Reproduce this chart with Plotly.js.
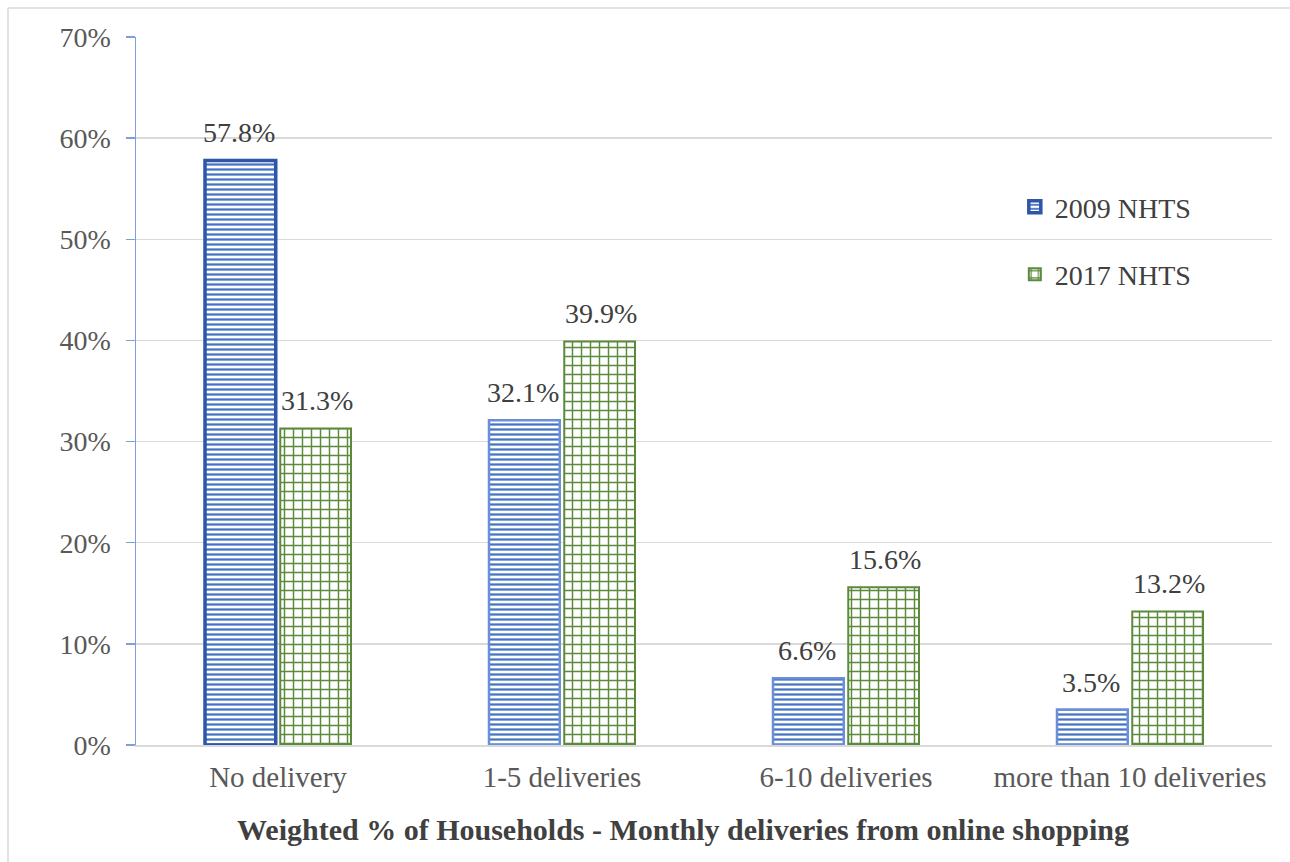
<!DOCTYPE html>
<html>
<head>
<meta charset="utf-8">
<script src="https://cdn.plot.ly/plotly-3.0.1.min.js"></script>
<style>
html,body{margin:0;padding:0;background:#fff;}
#chart{width:1290px;height:862px;}
</style>
</head>
<body>
<div id="chart"></div>
<script>
const categories = ["No delivery", "1-5 deliveries", "6-10 deliveries", "more than 10 deliveries"];
const series2009 = [57.8, 32.1, 6.6, 3.5];
const series2017 = [31.3, 39.9, 15.6, 13.2];
const seriesNames = ["2009 NHTS", "2017 NHTS"];
const yTickVals = [0, 10, 20, 30, 40, 50, 60, 70];
const yTickText = ["0%", "10%", "20%", "30%", "40%", "50%", "60%", "70%"];
const xTitle = "Weighted % of Households - Monthly deliveries from online shopping";

const serif = "Liberation Serif, Times New Roman, serif";
const fmt = v => v.toFixed(1) + "%";

const blue = "#4472C4";
const green = "#5B8A3A";

const traces = [
  {
    type: "bar", name: seriesNames[0], x: categories, y: series2009,
    legendgroup: "a",
    marker: {
      color: "#ffffff",
      line: {color: series2009.map((v, i) => i === 0 ? "#2F55A8" : "#6A8FD8"), width: series2009.map((v, i) => i === 0 ? 3.5 : 2.5)},
      pattern: {shape: "-", fgcolor: blue, bgcolor: "#ffffff", size: 5, solidity: 0.45}
    },
    hoverinfo: "skip"
  },
  {
    type: "bar", name: seriesNames[1], x: categories, y: series2017,
    legendgroup: "b",
    marker: {
      color: "#ffffff",
      line: {color: green, width: 2},
      pattern: {shape: "+", fgcolor: green, bgcolor: "#ffffff", size: 9, solidity: 0.3}
    },
    hoverinfo: "skip"
  }
];

// data labels above bars, from the series arrays
const groupOffset = 39; // px offset of each bar centre from category centre
const annotations = [];
[series2009, series2017].forEach((arr, s) => {
  arr.forEach((v, i) => {
    annotations.push({
      x: categories[i], y: v, xref: "x", yref: "y",
      text: fmt(v), showarrow: false, yanchor: "bottom",
      xshift: s === 0 ? -groupOffset : groupOffset, yshift: 10,
      font: {family: serif, size: 28, color: "#404040"}
    });
  });
});
// x-axis title (offset slightly left of the plot centre, as in the original)
annotations.push({
  xref: "paper", yref: "paper", x: 0.4815, y: -0.12,
  xanchor: "center", yanchor: "middle", showarrow: false,
  text: "<b>" + xTitle + "</b>",
  font: {family: serif, size: 30, color: "#404040"}
});

const layout = {
  width: 1290, height: 862,
  margin: {l: 136, r: 18, t: 37, b: 117},
  paper_bgcolor: "#ffffff", plot_bgcolor: "#ffffff",
  barmode: "group", bargap: 0.47, bargroupgap: 0.06,
  font: {family: serif, color: "#595959"},
  showlegend: true,
  legend: {
    x: 0.7736, y: 0.795, xanchor: "left", yanchor: "top",
    font: {family: serif, size: 28, color: "#404040"},
    tracegroupgap: 28, itemwidth: 30, bgcolor: "rgba(0,0,0,0)"
  },
  xaxis: {
    type: "category", showgrid: false, zeroline: false,
    showline: true, linecolor: "#d9d9d9", linewidth: 1.5,
    ticks: "", tickfont: {family: serif, size: 29, color: "#595959"},
    ticklabelstandoff: 6,
    automargin: false
  },
  yaxis: {
    range: [0, 70], tickvals: yTickVals, ticktext: yTickText,
    showgrid: true, gridcolor: "#d9d9d9", gridwidth: 1.5, zeroline: false,
    showline: true, linecolor: "#7F9FDC", linewidth: 1.5,
    ticks: "outside", ticklen: 9, tickcolor: "#7F9FDC", tickwidth: 1.5,
    tickfont: {family: serif, size: 28, color: "#595959"}, ticklabelstandoff: 9,
    automargin: false
  },
  yaxis2: {
    overlaying: "y", range: [0, 70], tickvals: yTickVals, showticklabels: false,
    showgrid: false, zeroline: false, showline: false,
    ticks: "inside", ticklen: 9, tickcolor: "#7F9FDC", tickwidth: 1.5, side: "left"
  },
  annotations: annotations,
  shapes: [
    {type: "line", xref: "paper", yref: "paper",
     x0: (8 - 136) / 1136, x1: (8 - 136) / 1136, y0: (745 - 870) / 708, y1: (745 - 8) / 708,
     line: {color: "#d9d9d9", width: 1.5}, layer: "below"},
    {type: "line", xref: "paper", yref: "paper",
     x0: (8 - 136) / 1136, x1: (1300 - 136) / 1136, y0: (745 - 8) / 708, y1: (745 - 8) / 708,
     line: {color: "#d9d9d9", width: 1.5}, layer: "below"}
  ]
};

Plotly.newPlot("chart", traces, layout, {staticPlot: true, displayModeBar: false});
</script>
</body>
</html>
